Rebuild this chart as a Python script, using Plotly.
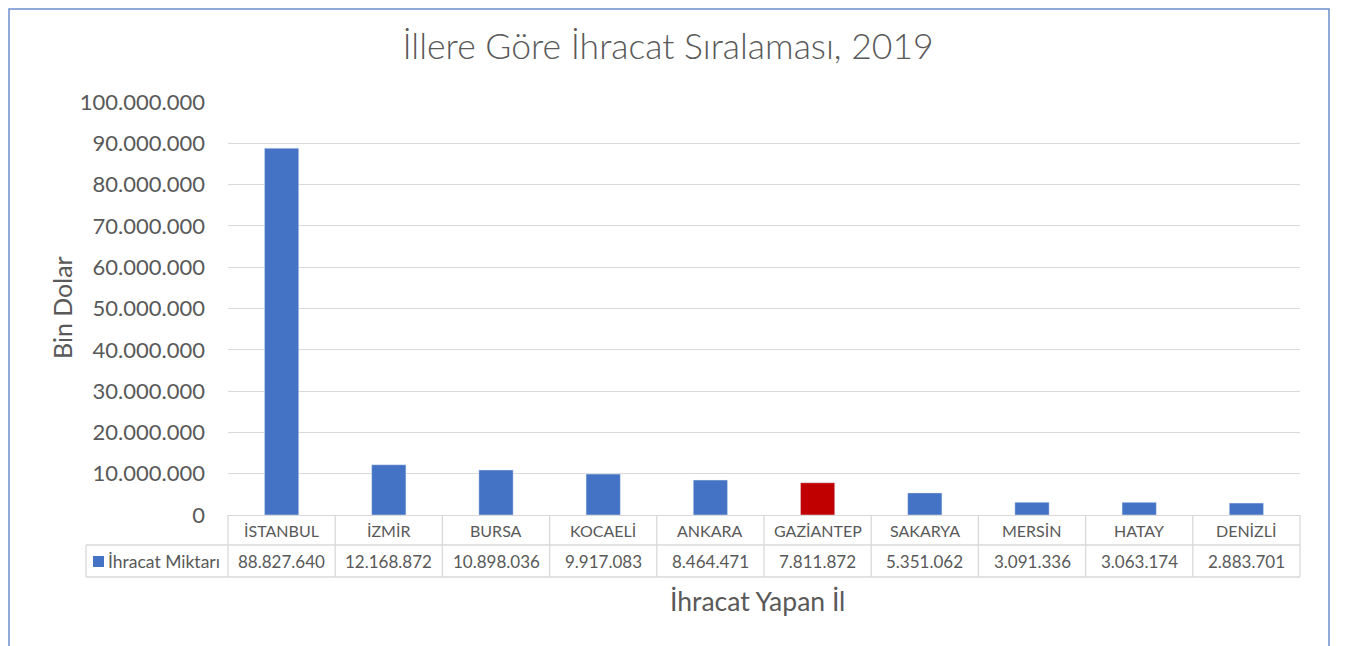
import plotly.graph_objects as go

# data
iller = ["İSTANBUL", "İZMİR", "BURSA", "KOCAELİ", "ANKARA",
         "GAZİANTEP", "SAKARYA", "MERSİN", "HATAY", "DENİZLİ"]
ihracat = [88827640, 12168872, 10898036, 9917083, 8464471,
           7811872, 5351062, 3091336, 3063174, 2883701]
seri_adi = "İhracat Miktarı"
vurgulu_il = "GAZİANTEP"

MAVI = "#4472C4"
KIRMIZI = "#C00000"
YAZI = "#595959"
CIZGI = "#D9D9D9"
FONT = "Lato"

# page has an 8px body margin, so the figure sits at (8, 8)
OFF = 8
W, H = 1348 - OFF, 646 - OFF
L, R, T, B = 228 - OFF, 48, 102 - OFF, 131


def fmt(v):
    return f"{v:,}".replace(",", ".")


# page pixel -> paper helpers
def px_x(p):
    return (p - OFF - L) / (W - L - R)


def px_y(p):
    return (H - B - (p - OFF)) / (H - T - B)


renkler = [KIRMIZI if il == vurgulu_il else MAVI for il in iller]

fig = go.Figure()
fig.add_trace(go.Bar(
    x=iller, y=ihracat, marker_color=renkler, width=0.32,
    name=seri_adi, showlegend=False,
))

shapes = []
annotations = []
n = len(iller)
row1_top, row_mid, row_bot = px_y(515), px_y(545), px_y(577)
leg_left = px_x(86)
line = dict(color=CIZGI, width=1.3)

# table lines
shapes.append(dict(type="line", xref="paper", yref="paper", x0=leg_left, x1=1,
                   y0=row_mid, y1=row_mid, line=line))
shapes.append(dict(type="line", xref="paper", yref="paper", x0=leg_left, x1=1,
                   y0=row_bot, y1=row_bot, line=line))
shapes.append(dict(type="line", xref="paper", yref="paper", x0=leg_left, x1=leg_left,
                   y0=row_mid, y1=row_bot, line=line))
for i in range(n + 1):
    shapes.append(dict(type="line", xref="paper", yref="paper", x0=i / n, x1=i / n,
                       y0=row1_top, y1=row_bot, line=line))

# table text
for i, (il, v) in enumerate(zip(iller, ihracat)):
    xc = (i + 0.5) / n
    annotations.append(dict(x=xc, y=(row1_top + row_mid) / 2, xref="paper", yref="paper",
                            xanchor="center", yanchor="middle", text=il, showarrow=False,
                            font=dict(size=16, color=YAZI, family=FONT)))
    annotations.append(dict(x=xc, y=(row_mid + row_bot) / 2, xref="paper", yref="paper",
                            xanchor="center", yanchor="middle", text=fmt(v), showarrow=False,
                            font=dict(size=17, color=YAZI, family=FONT)))

# legend key in table
shapes.append(dict(type="rect", xref="paper", yref="paper", x0=px_x(93), x1=px_x(104),
                   y0=px_y(567), y1=px_y(556), fillcolor=MAVI, line=dict(width=0)))
annotations.append(dict(x=px_x(106), y=(row_mid + row_bot) / 2, xref="paper", yref="paper",
                        xanchor="left", yanchor="middle", text=seri_adi, showarrow=False,
                        font=dict(size=17.5, color=YAZI, family=FONT)))

# axis title below table
annotations.append(dict(x=px_x(757), y=px_y(601), xref="paper", yref="paper",
                        xanchor="center", yanchor="middle",
                        text="İhracat Yapan İl", showarrow=False,
                        font=dict(size=26.5, color=YAZI, family=FONT)))

# y axis title
annotations.append(dict(x=px_x(62), y=px_y(308), xref="paper", yref="paper",
                        xanchor="center", yanchor="middle", textangle=-90,
                        text="Bin Dolar", showarrow=False,
                        font=dict(size=25, color=YAZI, family=FONT)))

# outer chart border
shapes.append(dict(type="rect", xref="paper", yref="paper", x0=px_x(9), x1=px_x(1329),
                   y0=px_y(700), y1=px_y(9), line=dict(color="#6F8FD0", width=1.5)))

fig.update_layout(
    width=W, height=H,
    margin=dict(l=L, r=R, t=T, b=B),
    paper_bgcolor="white", plot_bgcolor="white",
    separators=",.",
    font=dict(family=FONT, color=YAZI),
    title=dict(text="İllere Göre İhracat Sıralaması, 2019",
               x=(668 - OFF) / W, xanchor="center",
               y=1 - (47 - OFF) / H, yanchor="middle",
               font=dict(size=35.5, color=YAZI, family=FONT, weight=300)),
    shapes=shapes, annotations=annotations,
)
fig.update_yaxes(range=[0, 100000000], dtick=10000000, tickformat=",d",
                 gridcolor=CIZGI, gridwidth=1.3, zeroline=True, zerolinecolor=CIZGI,
                 zerolinewidth=1.3, ticks="", tickfont=dict(size=22, color=YAZI),
                 ticklabelstandoff=22, automargin=False)
fig.update_xaxes(showticklabels=False, showgrid=False, range=[-0.5, n - 0.5],
                 automargin=False)

fig.write_html("out.html")
